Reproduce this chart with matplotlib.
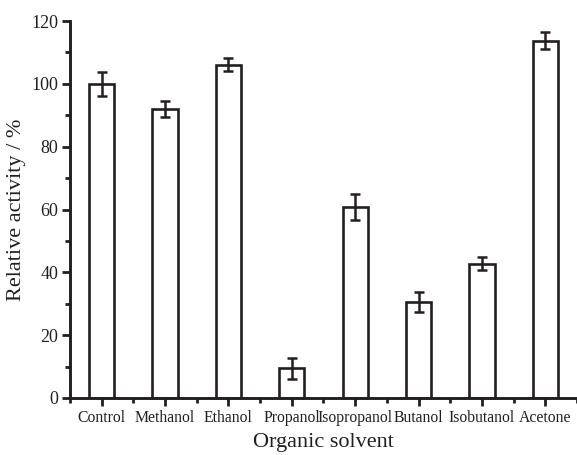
import numpy as np
import matplotlib
matplotlib.use('Agg')
import matplotlib.pyplot as plt
from matplotlib.ticker import MultipleLocator

# values
solvents = ['Control', 'Methanol', 'Ethanol', 'Propanol', 'Isopropanol',
            'Butanol', 'Isobutanol', 'Acetone']
activity = [100.0, 92.0, 106.1, 9.4, 60.9, 30.6, 42.8, 113.7]
errors = [3.9, 2.6, 2.1, 3.4, 4.1, 3.1, 2.0, 2.7]

ink = '#231f20'
plt.rcParams['font.family'] = ['Liberation Serif', 'DejaVu Serif']

fig = plt.figure(figsize=(5.77, 4.55), dpi=100)
ax = fig.add_axes([0.1213, 0.1253, 0.8787, 0.8285])

x = np.arange(len(solvents))
ax.bar(x, activity, width=0.4, color='white', edgecolor=ink, linewidth=1.9,
       zorder=2)
ax.errorbar(x, activity, yerr=errors, fmt='none', ecolor=ink, elinewidth=1.8,
            capsize=3.8, capthick=1.8, zorder=3)

ax.set_xlim(-0.5, len(solvents) - 0.5)
ax.set_ylim(0, 120)

ax.spines['top'].set_visible(False)
ax.spines['right'].set_visible(False)
for s in ['left', 'bottom']:
    ax.spines[s].set_linewidth(2.1)
    ax.spines[s].set_color(ink)

ax.set_xticks(x)
ax.set_xticklabels(solvents, fontsize=11.3, color=ink)
ax.set_xticks(np.arange(-0.5, len(solvents), 1.0), minor=True)
ax.yaxis.set_major_locator(MultipleLocator(20))
ax.yaxis.set_minor_locator(MultipleLocator(10))

ax.tick_params(axis='both', which='major', direction='out', width=2.0,
               color=ink, labelcolor=ink)
ax.tick_params(axis='both', which='minor', direction='out', width=2.0,
               color=ink)
ax.tick_params(axis='y', which='major', length=5.5, labelsize=13, pad=3)
ax.tick_params(axis='y', which='minor', length=3.5)
ax.tick_params(axis='x', which='major', length=6, pad=3)
ax.tick_params(axis='x', which='minor', length=3.8)

ax.set_xlabel('Organic solvent', fontsize=16, color=ink, labelpad=5)
ax.set_ylabel('Relative activity / %', fontsize=16, color=ink, labelpad=4)

fig.savefig('out.png', dpi=100)
